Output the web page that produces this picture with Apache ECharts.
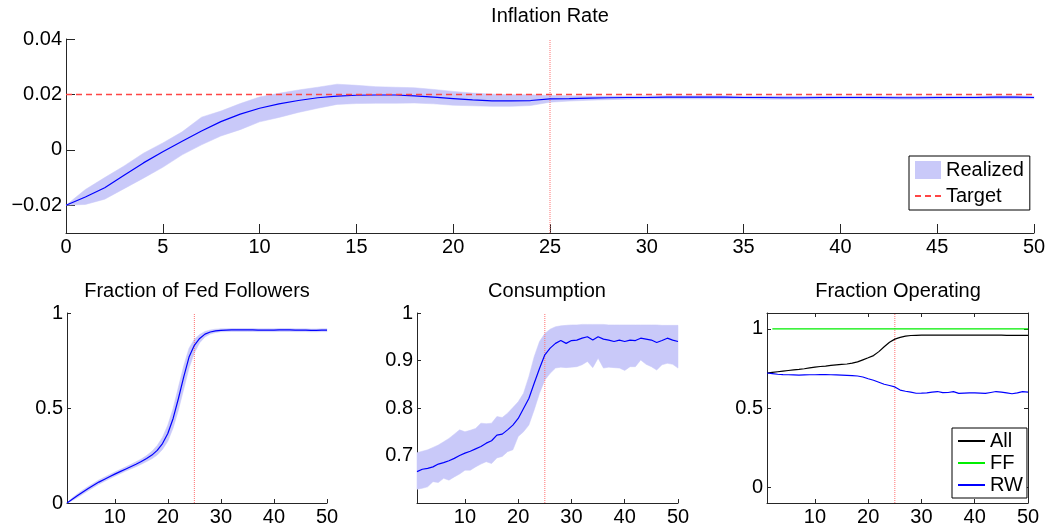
<!DOCTYPE html>
<html>
<head>
<meta charset="utf-8">
<title>Inflation Rate</title>
<script src="https://cdn.jsdelivr.net/npm/echarts@6/dist/echarts.min.js"></script>
<style>
  html, body { margin: 0; padding: 0; background: #fff; }
  #chart { width: 1050px; height: 531px; }
</style>
</head>
<body>
<div id="chart"></div>
<script>
// periods
var tInfl = [0, 1, 2, 3, 4, 5, 6, 7, 8, 9, 10, 11, 12, 13, 14, 15, 16, 17, 18, 19, 20,
  21, 22, 23, 24, 25, 26, 27, 28, 29, 30, 31, 32, 33, 34, 35, 36, 37, 38, 39, 40,
  41, 42, 43, 44, 45, 46, 47, 48, 49, 50];
var tSub = [1, 2, 3, 4, 5, 6, 7, 8, 9, 10, 11, 12, 13, 14, 15, 16, 17, 18, 19, 20,
  21, 22, 23, 24, 25, 26, 27, 28, 29, 30, 31, 32, 33, 34, 35, 36, 37, 38, 39, 40,
  41, 42, 43, 44, 45, 46, 47, 48, 49, 50];

// inflation rate: mean and band
var inflMean = [-0.0200, -0.0170, -0.0137, -0.0092, -0.0047, -0.0007, 0.0031, 0.0068, 0.0102, 0.0129,
  0.0150, 0.0166, 0.0178, 0.0188, 0.0194, 0.0197, 0.0198, 0.0198, 0.0195, 0.0190,
  0.0185, 0.0180, 0.0177, 0.0177, 0.0178, 0.0184, 0.0185, 0.0187, 0.0188, 0.0189,
  0.0189, 0.0190, 0.0190, 0.0190, 0.0190, 0.0189, 0.0189, 0.0188, 0.0188, 0.0189,
  0.0189, 0.0189, 0.0189, 0.0188, 0.0188, 0.0189, 0.0189, 0.0189, 0.0190, 0.0190, 0.0189];
var inflLow = [-0.0200, -0.0197, -0.0178, -0.0140, -0.0102, -0.0063, -0.0018, 0.0018, 0.0050, 0.0073,
  0.0101, 0.0117, 0.0135, 0.0150, 0.0164, 0.0167, 0.0168, 0.0168, 0.0169, 0.0166,
  0.0161, 0.0159, 0.0157, 0.0157, 0.0160, 0.0172, 0.0176, 0.0179, 0.0181, 0.0183,
  0.0184, 0.0184, 0.0184, 0.0184, 0.0184, 0.0184, 0.0183, 0.0183, 0.0183, 0.0183,
  0.0184, 0.0184, 0.0183, 0.0183, 0.0183, 0.0183, 0.0184, 0.0184, 0.0184, 0.0184, 0.0184];
var inflHigh = [-0.0200, -0.0143, -0.0100, -0.0058, -0.0012, 0.0025, 0.0065, 0.0118, 0.0140, 0.0167,
  0.0191, 0.0204, 0.0216, 0.0226, 0.0237, 0.0233, 0.0228, 0.0226, 0.0224, 0.0218,
  0.0211, 0.0205, 0.0201, 0.0199, 0.0199, 0.0196, 0.0195, 0.0194, 0.0194, 0.0194,
  0.0195, 0.0195, 0.0195, 0.0195, 0.0195, 0.0194, 0.0194, 0.0194, 0.0193, 0.0194,
  0.0194, 0.0194, 0.0194, 0.0193, 0.0193, 0.0194, 0.0194, 0.0194, 0.0195, 0.0195, 0.0194];
var inflTarget = 0.02;

// fraction of Fed followers
var fedMean = [0.000, 0.020, 0.039, 0.058, 0.076, 0.093, 0.110, 0.124, 0.138, 0.152,
  0.165, 0.178, 0.191, 0.204, 0.218, 0.234, 0.252, 0.277, 0.313, 0.366,
  0.445, 0.550, 0.664, 0.768, 0.830, 0.866, 0.889, 0.900, 0.906, 0.909,
  0.910, 0.911, 0.911, 0.911, 0.911, 0.911, 0.910, 0.910, 0.910, 0.910,
  0.911, 0.911, 0.911, 0.910, 0.910, 0.910, 0.909, 0.909, 0.910, 0.910];
var fedLow = [0.000, 0.013, 0.029, 0.047, 0.065, 0.082, 0.099, 0.113, 0.127, 0.141,
  0.154, 0.167, 0.179, 0.191, 0.204, 0.218, 0.233, 0.252, 0.282, 0.325,
  0.395, 0.490, 0.600, 0.710, 0.790, 0.843, 0.874, 0.889, 0.897, 0.901,
  0.902, 0.903, 0.903, 0.903, 0.903, 0.903, 0.902, 0.902, 0.902, 0.902,
  0.903, 0.903, 0.903, 0.902, 0.902, 0.902, 0.901, 0.901, 0.902, 0.902];
var fedHigh = [0.000, 0.027, 0.049, 0.069, 0.087, 0.104, 0.121, 0.135, 0.149, 0.163,
  0.176, 0.189, 0.203, 0.217, 0.232, 0.250, 0.272, 0.303, 0.346, 0.410,
  0.498, 0.610, 0.722, 0.815, 0.862, 0.887, 0.903, 0.911, 0.915, 0.917,
  0.917, 0.918, 0.918, 0.918, 0.918, 0.918, 0.917, 0.917, 0.917, 0.917,
  0.918, 0.918, 0.918, 0.917, 0.917, 0.917, 0.916, 0.916, 0.917, 0.917];

// consumption
var consMean = [0.666, 0.671, 0.673, 0.676, 0.682, 0.685, 0.689, 0.694, 0.700, 0.705,
  0.709, 0.714, 0.719, 0.726, 0.731, 0.743, 0.745, 0.754, 0.764, 0.778,
  0.799, 0.820, 0.852, 0.883, 0.912, 0.926, 0.936, 0.942, 0.936, 0.942,
  0.943, 0.947, 0.950, 0.943, 0.950, 0.945, 0.943, 0.940, 0.943, 0.940,
  0.943, 0.942, 0.947, 0.945, 0.943, 0.938, 0.942, 0.947, 0.943, 0.940];
var consLow = [0.629, 0.631, 0.634, 0.645, 0.643, 0.652, 0.648, 0.655, 0.661, 0.669,
  0.669, 0.676, 0.682, 0.687, 0.683, 0.695, 0.698, 0.708, 0.712, 0.740,
  0.750, 0.764, 0.796, 0.831, 0.859, 0.873, 0.884, 0.886, 0.885, 0.886,
  0.887, 0.891, 0.898, 0.885, 0.905, 0.884, 0.886, 0.885, 0.884, 0.879,
  0.887, 0.887, 0.901, 0.892, 0.887, 0.880, 0.891, 0.894, 0.892, 0.884];
var consHigh = [0.706, 0.709, 0.712, 0.717, 0.722, 0.729, 0.736, 0.745, 0.754, 0.750,
  0.753, 0.757, 0.768, 0.767, 0.768, 0.782, 0.780, 0.789, 0.801, 0.813,
  0.831, 0.866, 0.908, 0.940, 0.957, 0.966, 0.971, 0.973, 0.974, 0.975,
  0.975, 0.976, 0.976, 0.976, 0.976, 0.976, 0.975, 0.975, 0.975, 0.975,
  0.975, 0.975, 0.975, 0.975, 0.975, 0.975, 0.974, 0.974, 0.974, 0.974];

// fraction operating
var opAll = [0.721, 0.725, 0.729, 0.733, 0.737, 0.741, 0.744, 0.748, 0.753, 0.758,
  0.762, 0.765, 0.769, 0.772, 0.775, 0.778, 0.783, 0.791, 0.804, 0.817,
  0.831, 0.856, 0.887, 0.915, 0.935, 0.946, 0.954, 0.958, 0.959, 0.960,
  0.960, 0.960, 0.960, 0.960, 0.960, 0.960, 0.960, 0.960, 0.960, 0.960,
  0.960, 0.960, 0.960, 0.960, 0.960, 0.959, 0.959, 0.959, 0.959, 0.959];
var opFF = ['-', 1, 1, 1, 1, 1, 1, 1, 1, 1,
  1, 1, 1, 1, 1, 1, 1, 1, 1, 1,
  1, 1, 1, 1, 1, 1, 1, 1, 1, 1,
  1, 1, 1, 1, 1, 1, 1, 1, 1, 1,
  1, 1, 1, 1, 1, 1, 1, 1, 1, 1];
var opRW = [0.721, 0.717, 0.713, 0.711, 0.710, 0.709, 0.708, 0.709, 0.710, 0.710,
  0.711, 0.711, 0.710, 0.709, 0.708, 0.706, 0.704, 0.702, 0.696, 0.685,
  0.675, 0.663, 0.650, 0.642, 0.633, 0.613, 0.606, 0.600, 0.593, 0.594,
  0.596, 0.600, 0.604, 0.597, 0.598, 0.603, 0.592, 0.594, 0.596, 0.596,
  0.594, 0.592, 0.598, 0.604, 0.600, 0.595, 0.590, 0.595, 0.603, 0.600];

// tick labels and axis ranges
var inflXTicks = [0, 5, 10, 15, 20, 25, 30, 35, 40, 45, 50];
var inflYTicks = [-0.02, 0, 0.02, 0.04];
var subXTicks = [10, 20, 30, 40, 50];
var fedYTicks = [0, 0.5, 1];
var consYTicks = [0.7, 0.8, 0.9, 1];
var opYTicks = [0, 0.5, 1];
var inflYRange = [-0.03, 0.04];
var fedYRange = [0, 1];
var consYRange = [0.6, 1];
var opYRange = [-0.1, 1.1];
var switchPeriod = 25;

var FONT = '"Liberation Sans", Arial, Helvetica, sans-serif';
var BAND = '#c9c9f9';
var AXIS = '#262626';
var SWITCH = '#ff7070';
var NO_DOT = { color: 'rgba(0,0,0,0)', borderColor: 'rgba(0,0,0,0)', borderWidth: 0 };

function pairs(xs, ys) {
  return xs.map(function (x, i) { return [x, ys[i]]; });
}
function fmt(v) {
  return v < 0 ? '\u2212' + Math.abs(v) : String(v);
}

function xAxisOf(grid, min, max, ticks, tickLen) {
  return {
    type: 'value', gridIndex: grid, min: min, max: max,
    splitLine: { show: false },
    axisLine: { onZero: false, lineStyle: { color: AXIS, width: 1 } },
    axisTick: { inside: true, length: tickLen, customValues: ticks, lineStyle: { color: AXIS } },
    axisLabel: { customValues: ticks, color: '#000', fontSize: 20, fontFamily: FONT, margin: 4 }
  };
}
function yAxisOf(grid, range, ticks, tickLen) {
  return {
    type: 'value', gridIndex: grid, min: range[0], max: range[1],
    splitLine: { show: false },
    axisLine: { show: true, onZero: false, lineStyle: { color: AXIS, width: 1 } },
    axisTick: { show: true, inside: true, length: tickLen, customValues: ticks, lineStyle: { color: AXIS } },
    axisLabel: { customValues: ticks, color: '#000', fontSize: 20, fontFamily: FONT, margin: 4, formatter: fmt }
  };
}

// dotted red vertical line at the switch period, spanning the y range
function switchSeries(axis, range) {
  return {
    name: 'switch ' + axis, type: 'line', xAxisIndex: axis, yAxisIndex: axis,
    symbol: 'none', silent: true, color: SWITCH,
    lineStyle: { type: 'dotted', color: SWITCH, width: 1 },
    data: [[switchPeriod, range[0]], [switchPeriod, range[1]]], z: 2
  };
}

// shaded band drawn as one polygon through the axis scales
function bandSeries(name, axis, xs, lo, hi) {
  return {
    name: name, type: 'custom', xAxisIndex: axis, yAxisIndex: axis,
    silent: true, color: BAND, itemStyle: { color: BAND },
    data: xs.map(function (x, i) { return [x, lo[i], hi[i]]; }),
    encode: { x: 0, y: [1, 2] },
    renderItem: function (params, api) {
      if (params.dataIndex !== 0) return null;
      var pts = [];
      for (var i = 0; i < xs.length; i++) pts.push(api.coord([xs[i], lo[i]]));
      for (var j = xs.length - 1; j >= 0; j--) pts.push(api.coord([xs[j], hi[j]]));
      return { type: 'polygon', shape: { points: pts }, style: { fill: BAND, stroke: BAND, lineWidth: 0.5 } };
    },
    z: 1
  };
}

function meanSeries(name, axis, xs, ys, color) {
  return {
    name: name, type: 'line', xAxisIndex: axis, yAxisIndex: axis,
    symbol: 'none', color: color, lineStyle: { color: color, width: 1.2 },
    data: pairs(xs, ys), z: 3
  };
}

var titleStyle = { fontSize: 20, fontWeight: 'normal', color: '#000', fontFamily: FONT };

var option = {
  animation: false,
  backgroundColor: '#fff',
  textStyle: { fontFamily: FONT },
  title: [
    { text: 'Inflation Rate', left: 550, top: 6, textAlign: 'center', padding: 0, textStyle: titleStyle },
    { text: 'Fraction of Fed Followers', left: 197, top: 281, textAlign: 'center', padding: 0, textStyle: titleStyle },
    { text: 'Consumption', left: 547, top: 281, textAlign: 'center', padding: 0, textStyle: titleStyle },
    { text: 'Fraction Operating', left: 898, top: 281, textAlign: 'center', padding: 0, textStyle: titleStyle }
  ],
  grid: [
    { left: 66, top: 39, width: 968, height: 194, outerBoundsMode: 'none' },
    { left: 67, top: 313, width: 260, height: 190, outerBoundsMode: 'none' },
    { left: 417, top: 313, width: 261, height: 190, outerBoundsMode: 'none' },
    { left: 767, top: 313, width: 261, height: 190, outerBoundsMode: 'none' }
  ],
  xAxis: [
    xAxisOf(0, 0, 50, inflXTicks, 9),
    xAxisOf(1, 1, 50, subXTicks, 4),
    xAxisOf(2, 1, 50, subXTicks, 4),
    xAxisOf(3, 1, 50, subXTicks, 4),
    {
      type: 'value', gridIndex: 3, min: 1, max: 50, position: 'top',
      splitLine: { show: false },
      axisLine: { onZero: false, lineStyle: { color: AXIS, width: 1 } },
      axisTick: { inside: true, length: 4, customValues: subXTicks, lineStyle: { color: AXIS } },
      axisLabel: { show: false }
    }
  ],
  yAxis: [
    yAxisOf(0, inflYRange, inflYTicks, 9),
    yAxisOf(1, fedYRange, fedYTicks, 4),
    yAxisOf(2, consYRange, consYTicks, 4),
    yAxisOf(3, opYRange, opYTicks, 4),
    {
      type: 'value', gridIndex: 3, min: opYRange[0], max: opYRange[1], position: 'right',
      splitLine: { show: false },
      axisLine: { show: true, onZero: false, lineStyle: { color: AXIS, width: 1 } },
      axisTick: { show: true, inside: true, length: 4, customValues: opYTicks, lineStyle: { color: AXIS } },
      axisLabel: { show: false }
    }
  ],
  legend: [
    {
      orient: 'vertical', left: 909, top: 156,
      data: [
        { name: 'Realized', icon: 'rect', itemStyle: { color: BAND } },
        { name: 'Target', itemStyle: NO_DOT }
      ],
      itemWidth: 26, itemHeight: 18, itemGap: 6,
      padding: [4, 6, 4, 5],
      borderColor: '#000', borderWidth: 1, backgroundColor: '#fff',
      selectedMode: false,
      textStyle: { fontSize: 20, color: '#000', fontFamily: FONT }
    },
    {
      orient: 'vertical', left: 952, top: 428,
      data: [
        { name: 'All', itemStyle: NO_DOT },
        { name: 'FF', itemStyle: NO_DOT },
        { name: 'RW', itemStyle: NO_DOT }
      ],
      itemWidth: 27, itemHeight: 20, itemGap: 2,
      padding: [3, 4, 3, 5],
      borderColor: '#000', borderWidth: 1, backgroundColor: '#fff',
      selectedMode: false,
      textStyle: { fontSize: 20, color: '#000', fontFamily: FONT }
    }
  ],
  series: [
    bandSeries('Realized', 0, tInfl, inflLow, inflHigh),
    switchSeries(0, inflYRange),
    meanSeries('Inflation', 0, tInfl, inflMean, '#0000ff'),
    {
      name: 'Target', type: 'line', xAxisIndex: 0, yAxisIndex: 0, symbol: 'none',
      color: '#ff4545',
      lineStyle: { color: '#ff4545', width: 1.5, type: [6, 4] },
      data: [[0, inflTarget], [50, inflTarget]], z: 4
    },
    bandSeries('Fed band', 1, tSub, fedLow, fedHigh),
    switchSeries(1, fedYRange),
    meanSeries('Fed Followers', 1, tSub, fedMean, '#0000ff'),
    bandSeries('Cons band', 2, tSub, consLow, consHigh),
    switchSeries(2, consYRange),
    meanSeries('Consumption', 2, tSub, consMean, '#0000ff'),
    switchSeries(3, opYRange),
    meanSeries('All', 3, tSub, opAll, '#000000'),
    meanSeries('FF', 3, tSub, opFF, '#00ee00'),
    meanSeries('RW', 3, tSub, opRW, '#0000ff')
  ]
};

var myChart = echarts.init(document.getElementById('chart'));
myChart.setOption(option);
</script>
</body>
</html>
